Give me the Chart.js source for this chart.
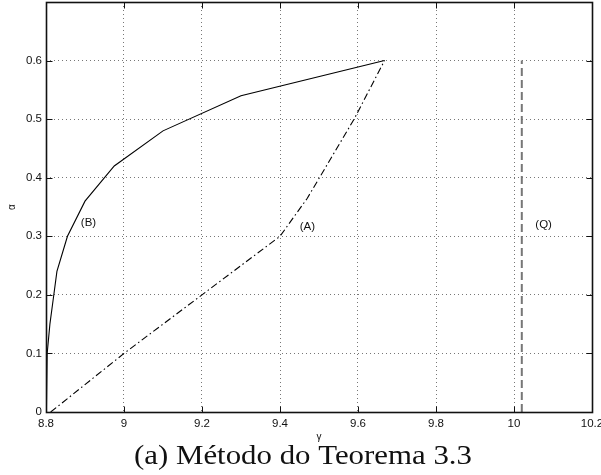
<!DOCTYPE html>
<html>
<head>
<meta charset="utf-8">
<script src="https://cdn.jsdelivr.net/npm/chart.js@4.4.1/dist/chart.umd.min.js"></script>
<style>
  html, body { margin: 0; padding: 0; background: #fff; }
  canvas { display: block; }
</style>
</head>
<body>
<canvas id="myChart" width="601" height="475"></canvas>
<script>
// curve (B), solid
const gammaB = [8.801, 8.803, 8.81, 8.818, 8.828, 8.855, 8.9, 8.975, 9.1, 9.3, 9.668];
const alphaB = [0, 0.1, 0.15, 0.19, 0.24, 0.3, 0.36, 0.42, 0.48, 0.54, 0.6];
// curve (A), dash-dot
const gammaA = [8.812, 9.0, 9.2, 9.4, 9.47, 9.59, 9.668];
const alphaA = [0, 0.1, 0.2, 0.3, 0.365, 0.5, 0.6];
// line (Q), dashed
const gammaQ = [10.02, 10.02];
const alphaQ = [0, 0.6];

const xTicks = [8.8, 9, 9.2, 9.4, 9.6, 9.8, 10, 10.2];
const yTicks = [0, 0.1, 0.2, 0.3, 0.4, 0.5, 0.6, 0.7];
const yLabelsShown = ['0', '0.1', '0.2', '0.3', '0.4', '0.5', '0.6', ''];

const curveNames = ['(B)', '(A)', '(Q)'];
const nameGamma = [8.909, 9.47, 10.076];
const nameAlpha = [0.323, 0.317, 0.32];

const xTitle = 'γ';
const yTitle = 'α';
const caption = '(a) Método do Teorema 3.3';

const toPoints = (xs, ys) => xs.map((x, i) => ({ x: x, y: ys[i] }));
const tickFont = { family: 'Liberation Sans, Arial, sans-serif', size: 11.5 };
const fmt = v => String(+Number(v).toFixed(2));

// MATLAB style box, inward ticks and texts
const matlabFrame = {
  id: 'matlabFrame',
  afterDraw(chart) {
    const ctx = chart.ctx;
    const a = chart.chartArea;
    const xs = chart.scales.x, ys = chart.scales.y;
    const L = Math.round(a.left) + 0.5, R = Math.round(a.right) + 0.5;
    const T = Math.round(a.top) + 0.5, B = Math.round(a.bottom) + 0.5;
    ctx.save();
    ctx.strokeStyle = '#111';
    ctx.lineWidth = 1;
    ctx.beginPath();
    xTicks.forEach(v => {
      const px = Math.round(xs.getPixelForValue(v)) + 0.5;
      ctx.moveTo(px, B); ctx.lineTo(px, B - 6);
      ctx.moveTo(px, T); ctx.lineTo(px, T + 6);
    });
    yTicks.forEach(v => {
      const py = Math.round(ys.getPixelForValue(v)) + 0.5;
      ctx.moveTo(L, py); ctx.lineTo(L + 6, py);
      ctx.moveTo(R, py); ctx.lineTo(R - 6, py);
    });
    ctx.stroke();
    ctx.lineWidth = 1.6;
    ctx.strokeRect(L, T, R - L, B - T);

    // curve names
    ctx.fillStyle = '#111';
    ctx.font = '11.5px "Liberation Sans", Arial, sans-serif';
    ctx.textAlign = 'center';
    ctx.textBaseline = 'middle';
    curveNames.forEach((t, i) => {
      ctx.fillText(t, xs.getPixelForValue(nameGamma[i]), ys.getPixelForValue(nameAlpha[i]));
    });

    // axis titles
    ctx.font = '10px "Liberation Sans", Arial, sans-serif';
    ctx.fillText(xTitle, (a.left + a.right) / 2, 437);
    ctx.save();
    ctx.translate(12, (a.top + a.bottom) / 2);
    ctx.rotate(-Math.PI / 2);
    ctx.fillText(yTitle, 0, 0);
    ctx.restore();

    // caption, widened to the Computer Modern width of the original
    ctx.font = '26.5px "Liberation Serif", "Times New Roman", serif';
    ctx.textBaseline = 'alphabetic';
    const w = ctx.measureText(caption).width;
    const sx = 338 / w;
    ctx.translate(303, 464);
    ctx.scale(sx, 1);
    ctx.fillText(caption, 0, 0);
    ctx.restore();
  }
};

const statsChart = new Chart(document.getElementById('myChart').getContext('2d'), {
  type: 'scatter',
  data: {
    datasets: [{
      label: 'B',
      data: toPoints(gammaB, alphaB),
      showLine: true,
      borderColor: '#000',
      borderWidth: 1.1,
      pointRadius: 0,
      tension: 0
    }, {
      label: 'A',
      data: toPoints(gammaA, alphaA),
      showLine: true,
      borderColor: '#000',
      borderWidth: 1.1,
      borderDash: [7, 3, 1.5, 3],
      pointRadius: 0,
      tension: 0
    }, {
      label: 'Q',
      data: toPoints(gammaQ, alphaQ),
      showLine: true,
      borderColor: '#777',
      borderWidth: 2,
      borderDash: [8, 4],
      pointRadius: 0
    }]
  },
  options: {
    responsive: false,
    animation: false,
    events: [],
    layout: { padding: { left: 0, top: 2, right: 9, bottom: 0 } },
    plugins: { legend: { display: false }, tooltip: { enabled: false } },
    scales: {
      x: {
        type: 'linear',
        min: 8.8,
        max: 10.2,
        afterBuildTicks: s => { s.ticks = xTicks.map(v => ({ value: v })); },
        afterFit: s => { s.height = 63; s.paddingLeft = 0; s.paddingRight = 0; },
        ticks: {
          font: tickFont, color: '#111', padding: 5,
          maxRotation: 0, autoSkip: false,
          callback: v => fmt(v)
        },
        grid: { color: '#777', lineWidth: 1, drawTicks: false },
        border: { display: false, dash: [1, 3] }
      },
      y: {
        type: 'linear',
        min: 0,
        max: 0.7,
        afterBuildTicks: s => { s.ticks = yTicks.map(v => ({ value: v })); },
        afterFit: s => { s.width = 46; s.paddingTop = 0; s.paddingBottom = 0; },
        ticks: {
          font: tickFont, color: '#111', padding: 4, autoSkip: false,
          callback: (v, i) => yLabelsShown[i]
        },
        grid: { color: '#777', lineWidth: 1, drawTicks: false },
        border: { display: false, dash: [1, 3] }
      }
    }
  },
  plugins: [matlabFrame]
});
</script>
</body>
</html>
